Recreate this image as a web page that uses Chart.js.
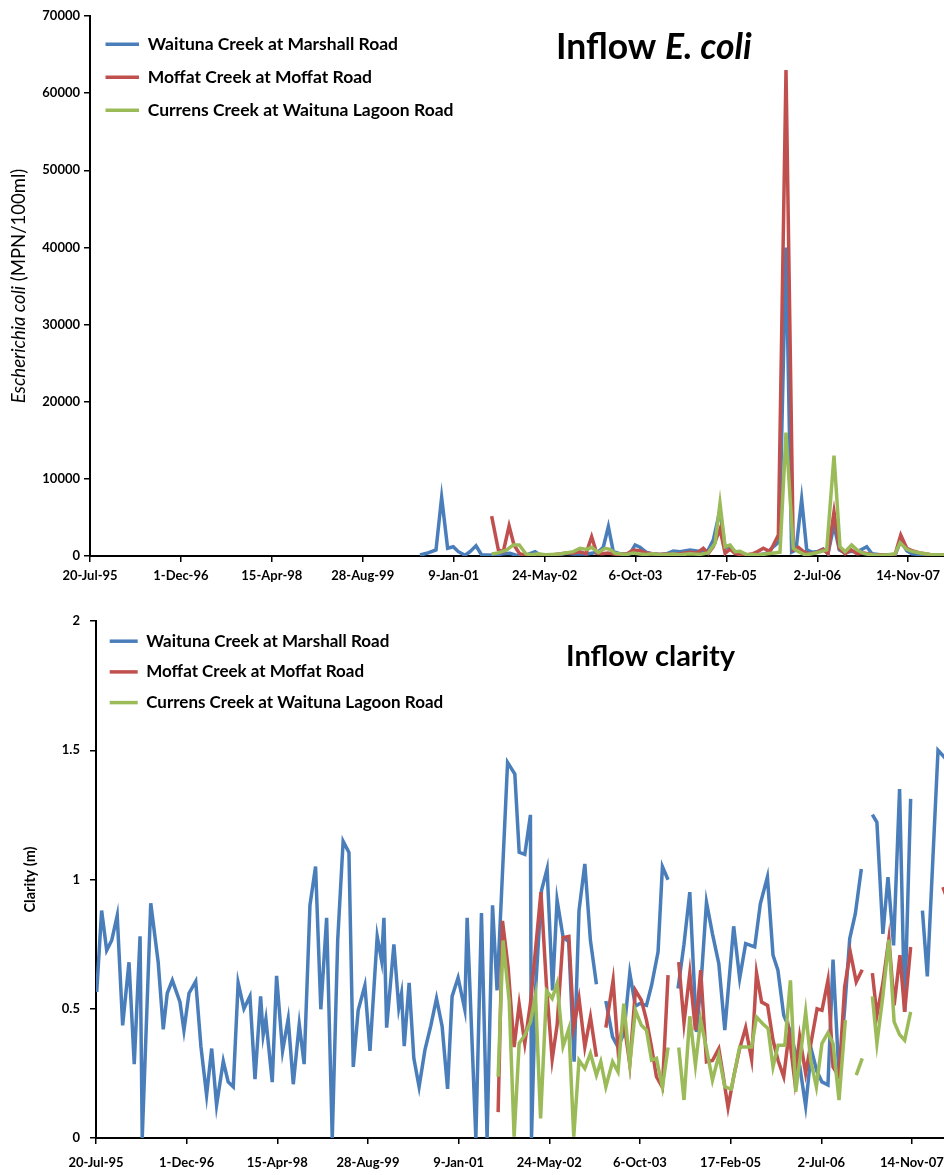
<!DOCTYPE html>
<html>
<head>
<meta charset="utf-8">
<script src="https://cdn.jsdelivr.net/npm/chart.js@4.4.1/dist/chart.umd.min.js"></script>
<style>
  html, body { margin: 0; padding: 0; background: #fff; overflow: hidden; }
  #top { position: absolute; left: 0; top: 0; width: 944px; height: 590px; }
  #bottom { position: absolute; left: 0; top: 595px; width: 944px; height: 580px; }
</style>
</head>
<body>
<div id="top"><canvas id="ecoliChart"></canvas></div>
<div id="bottom"><canvas id="clarityChart"></canvas></div>
<script>
// x values are days since 20-Jul-95 (first axis tick), ticks every 500 days
const START = Date.UTC(1995, 6, 20);
const MONTHS = ['Jan','Feb','Mar','Apr','May','Jun','Jul','Aug','Sep','Oct','Nov','Dec'];
const tickDays = [0, 500, 1000, 1500, 2000, 2500, 3000, 3500, 4000, 4500];
const siteNames = ['Waituna Creek at Marshall Road', 'Moffat Creek at Moffat Road', 'Currens Creek at Waituna Lagoon Road'];
const siteColors = ['#4A7EBB', '#C0504D', '#9BBB59'];

// E. coli (MPN/100ml), [day, value]
const waitunaEcoli = [[1815,130],[1852,350],[1903,780],[1934,7600],[1967,1000],[1998,1200],[2026,560],[2063,100],[2090,560],[2123,1330],[2154,130],[2191,130],[2228,100],[2272,300],[2310,350],[2343,100],[2371,50],[2409,200],[2448,560],[2475,130],[2514,80],[2547,150],[2585,200],[2622,350],[2657,250],[2695,300],[2732,250],[2767,400],[2794,500],[2823,1130],[2851,3800],[2878,560],[2915,300],[2948,250],[2970,300],[2998,1430],[3025,1130],[3058,500],[3097,250],[3135,200],[3174,300],[3208,650],[3245,560],[3300,780],[3355,600],[3399,700],[3428,2070],[3465,5960],[3493,1000],[3520,1330],[3548,400],[3575,430],[3608,200],[3647,150],[3685,200],[3718,300],[3749,1000],[3791,1860],[3828,40000],[3859,500],[3883,800],[3914,7350],[3942,780],[3971,500],[4004,600],[4032,900],[4059,300],[4092,4000],[4121,800],[4153,400],[4186,600],[4218,500],[4272,1200],[4301,300],[4345,150],[4389,150],[4428,100],[4459,2000],[4492,700],[4521,300],[4565,200],[4620,150],[4675,100],[4730,100]];
const moffatEcoli = [[2209,5180],[2246,780],[2273,560],[2305,3890],[2332,1430],[2361,350],[2393,50],[2426,100],[2459,80],[2492,100],[2525,150],[2558,200],[2591,300],[2624,400],[2658,400],[2695,560],[2728,300],[2759,2500],[2787,350],[2816,300],[2849,400],[2882,250],[2915,200],[2954,300],[2988,780],[3025,700],[3058,400],[3097,300],[3135,200],[3174,250],[3207,200],[3245,300],[3300,500],[3339,400],[3373,1000],[3401,350],[3428,1200],[3465,3500],[3493,350],[3520,900],[3548,300],[3575,200],[3614,150],[3647,300],[3674,600],[3703,1000],[3740,560],[3786,2720],[3828,63000],[3868,780],[3896,1130],[3924,560],[3955,300],[3993,400],[4033,860],[4059,300],[4092,5740],[4121,1000],[4153,300],[4186,800],[4218,300],[4257,400],[4301,200],[4345,150],[4389,100],[4428,200],[4459,2720],[4492,1000],[4521,700],[4565,400],[4620,200],[4675,150],[4730,100]];
const currensEcoli = [[2209,260],[2246,400],[2292,780],[2328,1430],[2361,1430],[2398,260],[2431,150],[2464,300],[2503,150],[2541,200],[2580,250],[2618,400],[2658,560],[2695,1000],[2732,860],[2759,1130],[2796,430],[2833,1000],[2860,860],[2888,350],[2921,250],[2954,200],[2987,400],[3025,250],[3058,200],[3097,300],[3135,150],[3174,200],[3207,250],[3245,150],[3300,300],[3355,200],[3399,400],[3438,1650],[3465,6830],[3493,1200],[3520,1430],[3548,560],[3575,600],[3614,150],[3647,200],[3685,150],[3724,300],[3762,400],[3795,500],[3828,16000],[3868,1000],[3894,600],[3933,150],[3971,300],[4010,500],[4052,780],[4092,13000],[4125,1200],[4153,560],[4189,1430],[4218,800],[4257,300],[4301,150],[4345,100],[4389,150],[4428,300],[4455,1720],[4492,860],[4521,600],[4565,400],[4620,200],[4675,150],[4730,100]];

// clarity (m), [day, value]; null = gap in record
const waitunaClarity = [[4,0.565],[31,0.88],[59,0.726],[87,0.765],[117,0.86],[147,0.436],[182,0.68],[211,0.286],[243,0.78],[255,0],[302,0.908],[343,0.68],[371,0.42],[393,0.56],[421,0.61],[463,0.526],[485,0.417],[513,0.56],[550,0.606],[579,0.352],[610,0.166],[638,0.346],[665,0.127],[702,0.297],[729,0.217],[757,0.198],[784,0.6],[816,0.5],[849,0.548],[877,0.228],[908,0.548],[922,0.398],[937,0.46],[972,0.216],[996,0.627],[1029,0.337],[1060,0.46],[1088,0.208],[1121,0.44],[1148,0.286],[1180,0.9],[1211,1.05],[1240,0.498],[1272,0.852],[1303,0],[1333,0.764],[1363,1.148],[1395,1.105],[1419,0.275],[1446,0.494],[1483,0.59],[1511,0.337],[1551,0.78],[1575,0.687],[1588,0.852],[1603,0.427],[1643,0.749],[1670,0.503],[1685,0.559],[1700,0.355],[1727,0.6],[1753,0.308],[1782,0.198],[1814,0.34],[1847,0.436],[1878,0.54],[1909,0.432],[1939,0.19],[1964,0.548],[1997,0.62],[2034,0.497],[2047,0.852],[2095,0],[2126,0.87],[2157,0],[2187,0.9],[2212,0.571],[2270,1.453],[2310,1.408],[2334,1.105],[2365,1.097],[2396,1.25],[2402,0],[2424,0.571],[2457,0.957],[2488,1.041],[2518,0.571],[2543,0.92],[2576,0.777],[2607,0.76],[2637,0.295],[2664,0.88],[2696,1.06],[2727,0.764],[2760,0.595],[2786,null],[2812,0.53],[2849,0.391],[2879,0.352],[2911,0.404],[2944,0.638],[2975,0.51],[2999,0.52],[3036,0.513],[3064,0.59],[3100,0.72],[3124,1.05],[3155,0.999],[3182,null],[3210,0.578],[3243,0.75],[3275,0.951],[3312,0.41],[3339,0.62],[3367,0.912],[3400,0.79],[3435,0.675],[3468,0.417],[3517,0.819],[3550,0.617],[3583,0.752],[3633,0.739],[3664,0.906],[3703,1.009],[3734,0.707],[3761,0.649],[3793,0.475],[3826,0.42],[3854,0.34],[3881,0.28],[3914,0.124],[3946,0.34],[3975,0.26],[4004,0.217],[4037,0.205],[4065,0.69],[4098,0.237],[4129,0.5],[4157,0.771],[4188,0.868],[4221,1.041],[4250,null],[4282,1.251],[4307,1.221],[4340,0.79],[4368,1.009],[4399,0.745],[4432,1.35],[4460,0.488],[4493,1.312],[4525,null],[4558,0.88],[4585,0.625],[4644,1.5],[4671,1.479],[4708,1.45]];
const moffatClarity = [[2218,0.1],[2242,0.84],[2273,0.66],[2306,0.352],[2334,0.517],[2365,0.366],[2396,0.52],[2454,0.951],[2485,0.584],[2516,0.304],[2543,0.436],[2576,0.775],[2608,0.78],[2635,0.43],[2664,0.54],[2696,0.352],[2727,0.468],[2760,0.314],[2786,null],[2812,0.427],[2852,0.61],[2879,0.346],[2911,0.45],[2944,0.286],[2975,0.571],[3008,0.533],[3036,0.456],[3064,0.352],[3091,0.237],[3124,0.196],[3155,0.63],[3182,null],[3214,0.68],[3243,0.445],[3275,0.638],[3306,0.417],[3335,0.649],[3367,0.295],[3400,0.3],[3435,0.346],[3457,0.25],[3486,0.118],[3517,0.237],[3550,0.346],[3583,0.427],[3616,0.304],[3643,0.638],[3671,0.526],[3704,0.513],[3734,0.378],[3762,0.3],[3793,0.237],[3822,0.404],[3854,0.22],[3881,0.391],[3914,0.25],[3946,0.378],[3977,0.5],[4004,0.494],[4037,0.61],[4065,0.275],[4098,0.237],[4129,0.584],[4160,0.72],[4193,0.604],[4226,0.651],[4250,null],[4282,0.638],[4307,0.475],[4340,0.6],[4373,0.771],[4402,0.513],[4434,0.707],[4460,0.488],[4493,0.739],[4560,null],[4671,0.97],[4708,0.9]];
const currensClarity = [[2218,0.237],[2245,0.764],[2279,0.53],[2306,0.005],[2334,0.366],[2365,0.398],[2396,0.449],[2424,0.552],[2452,0.076],[2485,0.569],[2516,0.54],[2543,0.597],[2576,0.355],[2608,0.423],[2635,0.005],[2664,0.301],[2696,0.269],[2727,0.327],[2760,0.243],[2784,0.295],[2812,0.198],[2849,0.295],[2879,0.256],[2911,0.52],[2944,0.286],[2975,0.494],[3008,0.436],[3036,0.417],[3064,0.301],[3091,0.308],[3124,0.196],[3155,0.35],[3182,null],[3214,0.35],[3243,0.147],[3275,0.471],[3306,0.282],[3335,0.456],[3367,0.346],[3400,0.224],[3435,0.32],[3468,0.198],[3504,0.19],[3550,0.352],[3583,0.352],[3616,0.352],[3643,0.468],[3676,0.443],[3707,0.423],[3734,0.275],[3762,0.359],[3799,0.359],[3830,0.61],[3859,0.179],[3887,0.33],[3914,0.488],[3942,0.3],[3973,0.198],[4004,0.366],[4037,0.407],[4065,0.366],[4098,0.147],[4133,0.456],[4160,null],[4193,0.243],[4226,0.308],[4250,null],[4282,0.548],[4307,0.366],[4340,0.55],[4373,0.767],[4402,0.449],[4432,0.4],[4460,0.378],[4493,0.488]];

function dayLabel(d) {
    const dt = new Date(START + d * 86400000);
    return dt.getUTCDate() + '-' + MONTHS[dt.getUTCMonth()] + '-' + String(dt.getUTCFullYear()).slice(2);
}

// extra text: chart titles and y-axis titles with mixed italic
const extraText = {
    id: 'extraText',
    afterDraw(chart, args, opts) {
        const ctx = chart.ctx;
        (opts.items || []).forEach(item => {
            ctx.save();
            let total = 0;
            item.parts.forEach(p => { ctx.font = p.font; p.w = ctx.measureText(p.text).width; total += p.w; });
            const cy = item.y === 'middle' ? (chart.chartArea.top + chart.chartArea.bottom) / 2 : item.y;
            ctx.translate(item.x, cy);
            if (item.rotate) ctx.rotate(-Math.PI / 2);
            let x = item.rotate ? -total / 2 : 0;
            ctx.textBaseline = 'middle';
            ctx.textAlign = 'left';
            ctx.fillStyle = '#000';
            item.parts.forEach(p => { ctx.font = p.font; ctx.fillText(p.text, x, 0); x += p.w; });
            ctx.restore();
        });
    }
};

function makeDatasets(series) {
    return series.map((s, i) => ({
        label: siteNames[i],
        data: s.map(p => ({ x: p[0], y: p[1] })),
        borderColor: siteColors[i],
        backgroundColor: siteColors[i],
        borderWidth: 3.5,
        pointRadius: 0,
        tension: 0,
        order: 2 - i
    }));
}

const tickFont = { family: 'Lato', weight: 'bold', size: 13 };

function makeOptions(c) {
    return {
        responsive: true,
        maintainAspectRatio: false,
        animation: false,
        events: [],
        layout: { padding: { top: c.padTop, right: 0, bottom: 0, left: 0 } },
        scales: {
            x: {
                type: 'linear',
                min: 0,
                max: c.xMax,
                afterBuildTicks: s => { s.ticks = tickDays.map(v => ({ value: v })); },
                afterFit: s => { s.height = c.xHeight; s.paddingLeft = 0; s.paddingRight = 0; },
                border: { color: '#000', width: 2 },
                grid: { drawOnChartArea: false, drawTicks: true, tickLength: 6, color: '#000', lineWidth: 1.5 },
                ticks: {
                    autoSkip: false, maxRotation: 0,
                    color: '#000', font: tickFont, padding: c.xPad,
                    callback: v => dayLabel(v)
                }
            },
            y: {
                min: 0,
                max: c.yMax,
                afterFit: s => { s.width = c.yWidth; s.paddingTop = 0; s.paddingBottom = 0; },
                border: { color: '#000', width: 2 },
                grid: { drawOnChartArea: false, drawTicks: true, tickLength: 6, color: '#000', lineWidth: 1.5 },
                ticks: { stepSize: c.yStep, color: '#000', font: tickFont, padding: c.yPad, callback: v => String(v) }
            }
        },
        plugins: {
            tooltip: { enabled: false },
            legend: {
                position: 'chartArea',
                align: 'start',
                title: { display: true, text: ' ', font: { size: 10, lineHeight: 1 }, padding: c.legendShift },
                labels: {
                    usePointStyle: true,
                    pointStyle: 'line',
                    pointStyleWidth: c.legendLine,
                    padding: c.legendPad,
                    color: '#000',
                    font: { family: 'Lato', weight: 'bold', size: c.legendSize },
                    sort: (a, b) => a.datasetIndex - b.datasetIndex
                }
            },
            extraText: { items: c.texts }
        }
    };
}

new Chart(document.getElementById('ecoliChart'), {
    type: 'line',
    data: { datasets: makeDatasets([waitunaEcoli, moffatEcoli, currensEcoli]) },
    options: makeOptions({
        padTop: 16, xMax: 4697, xHeight: 34, xPad: 6, yMax: 70000, yStep: 10000, yWidth: 90, yPad: 4,
        legendLine: 33.5, legendPad: 15.5, legendSize: 17.5, legendShift: 5,
        texts: [
            { x: 556, y: 48, parts: [
                { text: 'Inflow ', font: 'bold 35.5px Lato' },
                { text: 'E. coli', font: 'italic bold 35.5px Lato' }
            ] },
            { x: 19, y: 'middle', rotate: true, parts: [
                { text: 'Escherichia coli', font: 'italic 18.5px Lato' },
                { text: ' (MPN/100ml)', font: '18.5px Lato' }
            ] }
        ]
    }),
    plugins: [extraText]
});

new Chart(document.getElementById('clarityChart'), {
    type: 'line',
    data: { datasets: makeDatasets([waitunaClarity, moffatClarity, currensClarity]) },
    options: makeOptions({
        padTop: 26, xMax: 4677, xHeight: 37, xPad: 11, yMax: 2, yStep: 0.5, yWidth: 96, yPad: 10,
        legendLine: 28, legendPad: 13.7, legendSize: 17, legendShift: 7,
        texts: [
            { x: 566, y: 62, parts: [{ text: 'Inflow clarity', font: 'bold 29px Lato' }] },
            { x: 30, y: 'middle', rotate: true, parts: [{ text: 'Clarity (m)', font: 'bold 14.5px Lato' }] }
        ]
    }),
    plugins: [extraText]
});
</script>
</body>
</html>
